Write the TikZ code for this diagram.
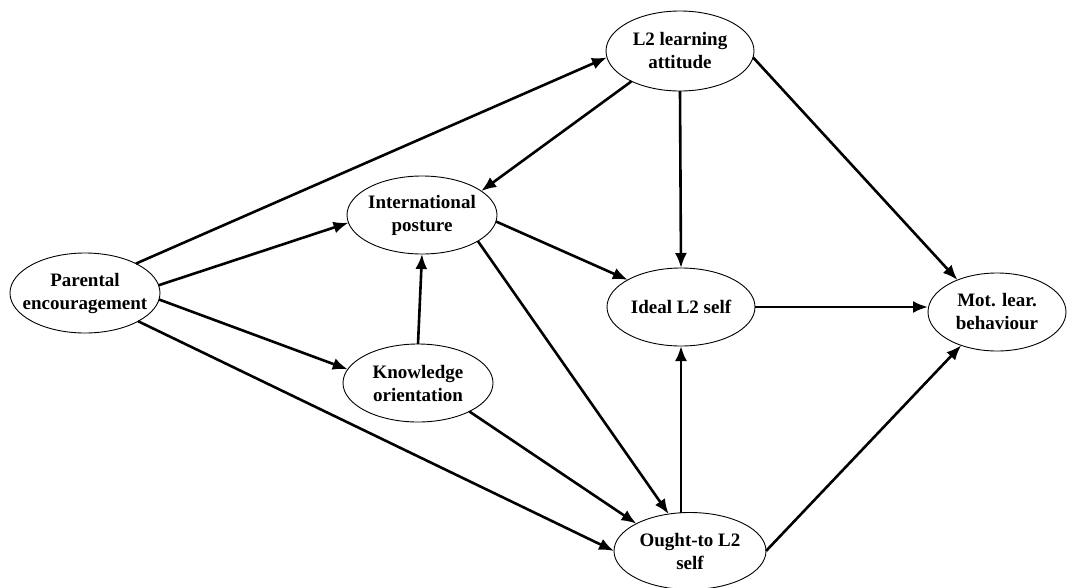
\documentclass[tikz,border=0pt]{standalone}
\usepackage{fontspec}
\setmainfont{Liberation Serif}
\usetikzlibrary{arrows.meta,shapes.geometric}
\begin{document}
\begin{tikzpicture}[x=1pt,y=-1pt,
  construct/.style={draw, ellipse, line width=0.9pt, inner sep=0pt, outer sep=0pt,
                    minimum width=150pt, minimum height=78pt},
  caption/.style={font=\bfseries\fontsize{19}{23}\selectfont, align=center, inner sep=0pt},
  link/.style={line width=2.6pt, -{Latex[length=15pt,width=12pt]}}]
\useasboundingbox (0,0) rectangle (1069,587);

% constructs of the path model
\node[construct, minimum width=148pt, minimum height=80pt,
      label={[caption]center:L2 learning\\attitude}] (l2) at (680,51) {};
\node[construct, label={[caption]center:International\\posture}] (ip) at (422,215) {};
\node[construct, minimum height=80pt,
      label={[caption]center:Parental\\encouragement}] (pe) at (85,293) {};
\node[construct, label={[caption]center:Knowledge\\orientation}] (ko) at (418,383) {};
\node[construct, minimum width=148pt,
      label={[caption]center:Ideal L2 self}] (ideal) at (681,307) {};
\node[construct, minimum width=138pt,
      label={[caption]center:Mot. lear.\\behaviour}] (mot) at (997,312) {};
\node[construct, minimum width=152pt, minimum height=77pt,
      label={[caption]center:Ought-to L2\\self}] (ought) at (690,551) {};

% hypothesised paths
\draw[link] (pe.30)  -- (l2.185);
\draw[link] (pe.6)   -- (ip.186);
\draw[link] (pe.-5)  -- (ko.169);
\draw[link] (pe.-28) -- (ought.180);
\draw[link] (l2.212) -- (ip.22);
\draw[link] (l2.south) -- (ideal.north);
\draw[link] (l2.-5)  -- (mot.141);
\draw[link] (ip.-5)  -- (ideal.153);
\draw[link] (ip.-25) -- (ought.120);
\draw[link] (ko.north) -- (ip.south);
\draw[link] (ko.-29) -- (ought.153);
\draw[link] (ideal.east) -- (ideal.east -| mot.west);
\draw[link] (ideal.south |- ought.north) -- (ideal.south);
\draw[link] (ought.0) -- (mot.223);
\end{tikzpicture}
\end{document}
